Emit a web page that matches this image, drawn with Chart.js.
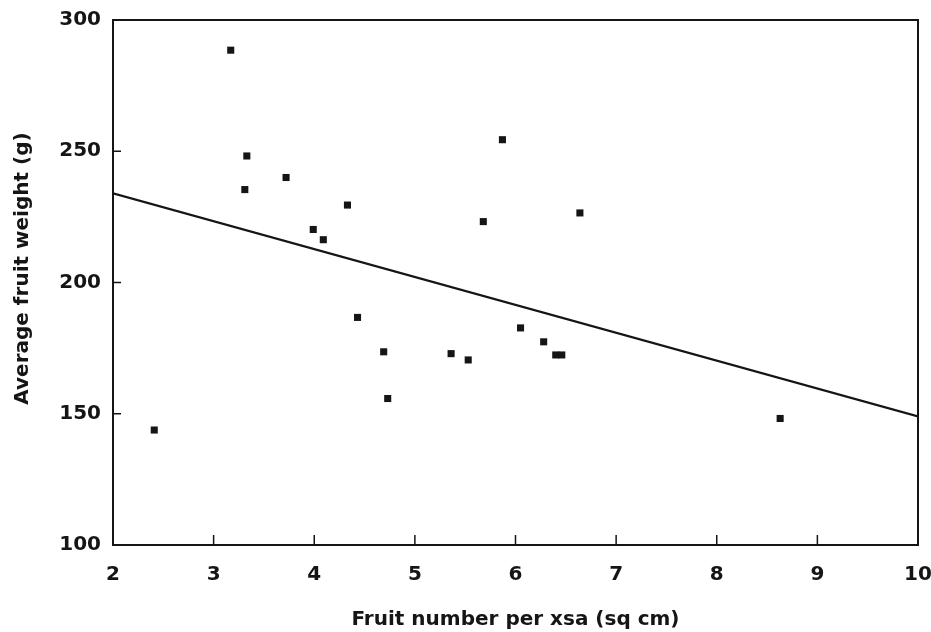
<!DOCTYPE html>
<html>
<head>
<meta charset="utf-8">
<script src="https://cdn.jsdelivr.net/npm/chart.js@4.4.1/dist/chart.umd.min.js"></script>
<style>
    html, body { margin: 0; padding: 0; background: #fff; overflow: hidden; }
    #wrap { width: 931px; height: 632px; }
</style>
</head>
<body>
<div id="wrap"><canvas id="chart"></canvas></div>
<script>
// ---- data ----
const fruitNumber = [3.17, 3.33, 3.31, 3.72, 3.99, 4.09, 4.33, 4.43, 4.69, 4.73,
                     5.36, 5.53, 5.68, 5.87, 6.05, 6.28, 6.40, 6.46, 6.64, 8.63, 2.41];
const fruitWeight = [288.5, 248.2, 235.4, 240.0, 220.2, 216.3, 229.5, 186.7, 173.6, 155.8,
                     172.9, 170.5, 223.2, 254.4, 182.7, 177.4, 172.4, 172.4, 226.5, 148.2, 143.8];

// fitted regression line endpoints
const fitX = [2, 10];
const fitY = [234, 149];

const xTicks = [2, 3, 4, 5, 6, 7, 8, 9, 10];
const yTicks = [100, 150, 200, 250, 300];

const INK = '#151515';
const FONT = 'DejaVu Sans';

const scatterPoints = fruitNumber.map((x, i) => ({ x: x, y: fruitWeight[i] }));
const linePoints = fitX.map((x, i) => ({ x: x, y: fitY[i] }));

// frame around the plot + short inside tick marks
const frameAndTicks = {
    id: 'frameAndTicks',
    afterDraw(chart) {
        const { ctx, chartArea: a, scales } = chart;
        ctx.save();
        ctx.strokeStyle = INK;
        ctx.lineWidth = 2;
        ctx.strokeRect(a.left, a.top, a.right - a.left, a.bottom - a.top);

        ctx.lineWidth = 1.5;
        ctx.beginPath();
        xTicks.slice(1, -1).forEach(v => {
            const px = scales.x.getPixelForValue(v);
            ctx.moveTo(px, a.bottom);
            ctx.lineTo(px, a.bottom - 10);
        });
        yTicks.slice(1, -1).forEach(v => {
            const py = scales.y.getPixelForValue(v);
            ctx.moveTo(a.left, py);
            ctx.lineTo(a.left + 8, py);
        });
        ctx.stroke();
        ctx.restore();
    }
};

new Chart(document.getElementById('chart'), {
    type: 'scatter',
    data: {
        datasets: [{
            label: 'Observed',
            data: scatterPoints,
            pointStyle: 'rect',
            pointRadius: 5,
            pointBackgroundColor: INK,
            pointBorderWidth: 0
        }, {
            type: 'line',
            label: 'Fit',
            data: linePoints,
            borderColor: INK,
            borderWidth: 2.2,
            pointRadius: 0,
            fill: false,
            tension: 0
        }]
    },
    options: {
        responsive: true,
        maintainAspectRatio: false,
        animation: false,
        layout: {
            padding: { top: 20, right: 13, bottom: 0, left: 0 }
        },
        plugins: {
            legend: { display: false },
            tooltip: { enabled: false }
        },
        scales: {
            x: {
                type: 'linear',
                min: 2,
                max: 10,
                afterBuildTicks: scale => { scale.ticks = xTicks.map(v => ({ value: v })); },
                afterFit: scale => {
                    scale.height = 87;
                    scale.paddingLeft = 0;
                    scale.paddingRight = 0;
                },
                border: { display: false },
                grid: { display: false, drawTicks: false },
                ticks: {
                    padding: 18,
                    color: INK,
                    font: { family: FONT, size: 20, weight: 'bold' }
                },
                title: {
                    display: true,
                    text: 'Fruit number per xsa (sq cm)',
                    color: INK,
                    font: { family: FONT, size: 20, weight: 'bold' },
                    padding: { top: 0, bottom: 0 }
                }
            },
            y: {
                type: 'linear',
                min: 100,
                max: 300,
                afterBuildTicks: scale => { scale.ticks = yTicks.map(v => ({ value: v })); },
                afterFit: scale => {
                    scale.width = 113;
                    scale.paddingTop = 0;
                    scale.paddingBottom = 0;
                },
                border: { display: false },
                grid: { display: false, drawTicks: false },
                ticks: {
                    padding: 12,
                    color: INK,
                    font: { family: FONT, size: 20, weight: 'bold' }
                },
                title: {
                    display: true,
                    // leading spaces nudge the rotated title up, as in the original
                    text: '    Average fruit weight (g)',
                    color: INK,
                    font: { family: FONT, size: 20, weight: 'bold' },
                    padding: { top: 11, bottom: 0 }
                }
            }
        }
    },
    plugins: [frameAndTicks]
});
</script>
</body>
</html>
